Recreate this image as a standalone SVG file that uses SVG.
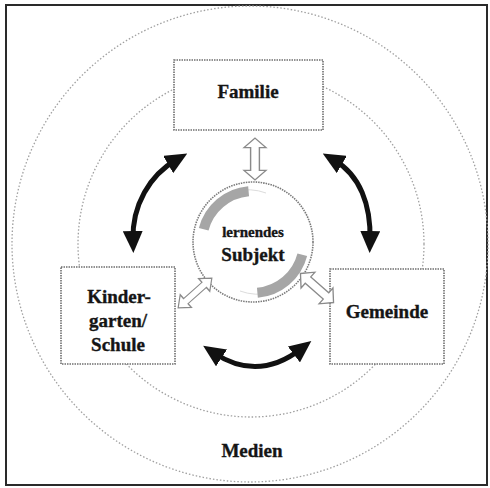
<svg xmlns="http://www.w3.org/2000/svg" width="490" height="488" viewBox="0 0 490 488">
  <style>
    .ring { fill: none; stroke: #a0a0a0; stroke-width: 1.3; stroke-dasharray: 1.5 2; }
    .box { fill: #ffffff; stroke: #6f6f6f; stroke-width: 1.6; stroke-dasharray: 1.5 1; }
    .lbl { font-family: "Liberation Serif", "Times New Roman", serif; font-weight: bold; fill: #151515; stroke: #151515; stroke-width: 0.35; text-anchor: middle; }
    .big { font-size: 19px; }
    .small { font-size: 15px; }
    .curve { fill: none; stroke: #111; stroke-width: 5; }
    .hollow { fill: #ffffff; stroke: #8a8a8a; stroke-width: 1.3; }
  </style>
  <defs>
    <marker id="head" viewBox="0 0 22 20" markerWidth="22" markerHeight="20" markerUnits="userSpaceOnUse" refX="9" refY="10" orient="auto-start-reverse">
      <path d="M0,0 L22,10 L0,20 Z" fill="#111"/>
    </marker>
    <path id="dbl" d="M-22,0 L-12,-10 L-12,-4 L12,-4 L12,-10 L22,0 L12,10 L12,4 L-12,4 L-12,10 Z"/>
  </defs>

  <g id="frame">
    <rect x="6" y="5" width="481" height="480" fill="#ffffff" stroke="#2a2a2a" stroke-width="2"/>
  </g>

  <g id="rings">
    <circle class="ring" cx="250" cy="244" r="238"/>
    <circle class="ring" cx="251" cy="244" r="173"/>
  </g>

  <g id="medien">
    <text class="lbl big" x="252" y="457">Medien</text>
  </g>

  <g id="familie">
    <rect class="box" x="174" y="60" width="149" height="70"/>
    <text class="lbl big" x="248" y="98">Familie</text>
  </g>

  <g id="kindergarten">
    <rect class="box" x="61" y="267" width="114" height="97"/>
    <text class="lbl big" x="119" y="303">Kinder-</text>
    <text class="lbl big" x="118" y="327">garten/</text>
    <text class="lbl big" x="118" y="351">Schule</text>
  </g>

  <g id="gemeinde">
    <rect class="box" x="330" y="269" width="114" height="95"/>
    <text class="lbl big" x="387" y="318">Gemeinde</text>
  </g>

  <g id="subjekt">
    <circle cx="253" cy="242" r="60" fill="#ffffff" stroke="#7a7a7a" stroke-width="1.6" stroke-dasharray="1.5 1"/>
    <path d="M209,208 A51,51 0 0 1 266,193" fill="none" stroke="#dcdcdc" stroke-width="1"/>
    <path d="M297,276 A51,51 0 0 1 240,291" fill="none" stroke="#dcdcdc" stroke-width="1"/>
    <path d="M203.7,229.2 A51,51 0 0 1 248.6,191.2" fill="none" stroke="#a6a6a6" stroke-width="10"/>
    <path d="M302.3,254.8 A51,51 0 0 1 257.4,292.8" fill="none" stroke="#a6a6a6" stroke-width="10"/>
    <text class="lbl small" x="253" y="237">lernendes</text>
    <text class="lbl big" x="253" y="261">Subjekt</text>
  </g>

  <g id="connectors">
    <path class="curve" d="M176,160 C150,175 132,205 133,240" marker-start="url(#head)" marker-end="url(#head)"/>
    <path class="curve" d="M334,160 C360,175 371,205 370,240" marker-start="url(#head)" marker-end="url(#head)"/>
    <path class="curve" d="M214,353 Q258,382 301,349" marker-start="url(#head)" marker-end="url(#head)"/>
    <use href="#dbl" class="hollow" transform="translate(255,159) rotate(90) scale(0.95,1.1)"/>
    <use href="#dbl" class="hollow" transform="translate(195,293) rotate(-41.4) scale(1.02,0.85)"/>
    <use href="#dbl" class="hollow" transform="translate(317,288) rotate(41.3) scale(1,1.05)"/>
  </g>
</svg>
